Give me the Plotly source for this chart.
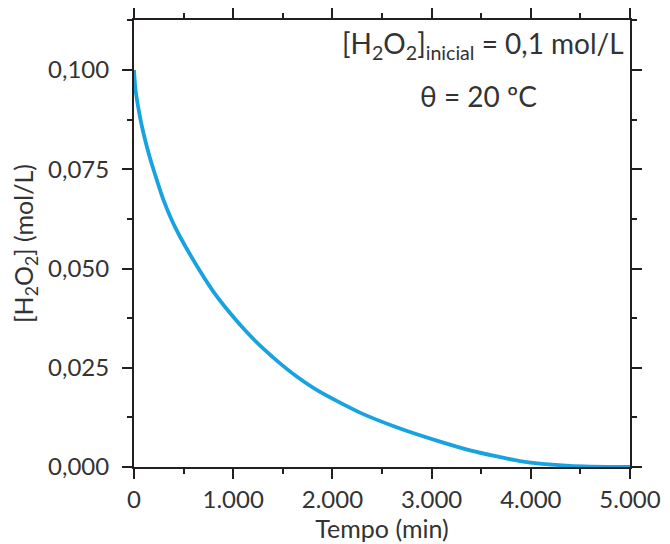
import plotly.graph_objects as go

# Data
tempo_min = [0, 13, 40, 68, 108, 148, 202, 249, 295, 380, 464, 645, 800, 968,
             1136, 1304, 1472, 1640, 1875, 2278, 2681, 3085, 3387, 3891, 4395, 5000]
conc_h2o2 = [0.1000, 0.0955, 0.0910, 0.0872, 0.0828, 0.0790, 0.0745, 0.0708,
             0.0674, 0.0622, 0.0580, 0.0502, 0.0442, 0.0388, 0.0340, 0.0298,
             0.0261, 0.0228, 0.0189, 0.0137, 0.0097, 0.0064, 0.0042, 0.0015,
             0.0003, 0.0000]

x_tickvals = [0, 1000, 2000, 3000, 4000, 5000]
x_ticktext = ["0", "1.000", "2.000", "3.000", "4.000", "5.000"]
y_tickvals = [0.0, 0.025, 0.05, 0.075, 0.1]
y_ticktext = ["0,000", "0,025", "0,050", "0,075", "0,100"]

FONT = "Lato, 'Open Sans', sans-serif"
TXT = "#333333"
AX = "#231f20"

fig = go.Figure()
fig.add_trace(go.Scatter(
    x=tempo_min, y=conc_h2o2, mode="lines",
    line=dict(color="#18a2e0", width=3.8, shape="spline", smoothing=0.6),
    showlegend=False, hoverinfo="skip",
))

common = dict(
    showline=True, linecolor=AX, linewidth=2, mirror="ticks",
    ticks="outside", ticklen=10, tickwidth=2, tickcolor=AX,
    showgrid=False, zeroline=False, automargin=False,
    tickfont=dict(family=FONT, size=24, color=TXT),
)

fig.update_xaxes(
    range=[0, 5000], tickvals=x_tickvals, ticktext=x_ticktext,
    minor=dict(ticks="outside", ticklen=5, tickwidth=2, tickcolor=AX, dtick=500, showgrid=False),
    title=dict(text="Tempo (min)", font=dict(family=FONT, size=25, color=TXT), standoff=4),
    **common,
)
fig.update_yaxes(
    range=[0, 0.1126], tickvals=y_tickvals, ticktext=y_ticktext,
    ticklabelstandoff=8,
    minor=dict(ticks="outside", ticklen=5, tickwidth=2, tickcolor=AX, dtick=0.0125, showgrid=False),
    title=dict(text="[H<sub>2</sub>O<sub>2</sub>] (mol/L)", font=dict(family=FONT, size=25, color=TXT), standoff=14),
    **common,
)

fig.add_annotation(
    x=0.703, y=0.944, xref="paper", yref="paper", showarrow=False,
    text="[H<sub>2</sub>O<sub>2</sub>]<sub>inicial</sub> = 0,1 mol/L",
    font=dict(family=FONT, size=28, color=TXT), xanchor="center", yanchor="middle",
)
fig.add_annotation(
    x=0.694, y=0.83, xref="paper", yref="paper", showarrow=False,
    text="θ = 20 ºC",
    font=dict(family=FONT, size=28, color=TXT), xanchor="center", yanchor="middle",
)

# The page body adds an 8 px offset, so the figure is sized to fit the window
fig.update_layout(
    width=662, height=536,
    margin=dict(l=126, r=40, t=12, b=77),
    paper_bgcolor="white", plot_bgcolor="white",
)

fig.write_html("out.html")
